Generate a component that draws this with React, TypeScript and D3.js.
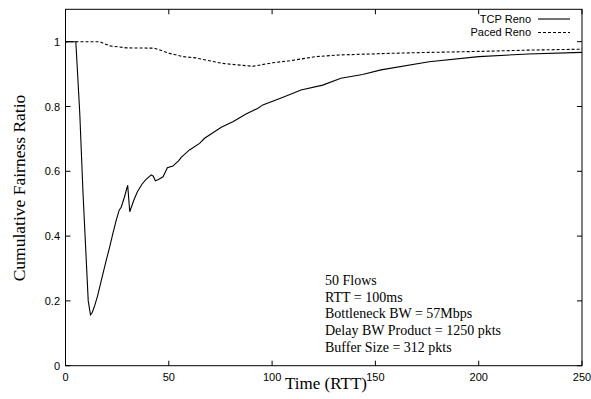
import React from "react";
import * as d3 from "d3";

const renoX = [0, 5, 6.9, 8.5, 11, 12.1, 13, 14.2, 15.5, 17.4, 19.5, 21.4, 23, 24.6, 26, 27, 28.5, 30.1, 31.1, 33, 34.8, 37, 39, 41.5, 42.5, 43.5, 45, 47.2, 48.5, 49.3, 52, 53.5, 54.7, 56, 60, 64.9, 67.3, 72.1, 75.4, 81, 87.4, 93, 95.5, 105, 114, 124.5, 133.3, 143.8, 152.7, 176, 200, 224, 250];
const renoY = [1, 1, 0.78, 0.53, 0.2, 0.157, 0.165, 0.187, 0.215, 0.265, 0.32, 0.367, 0.41, 0.45, 0.48, 0.49, 0.52, 0.557, 0.475, 0.51, 0.537, 0.56, 0.575, 0.589, 0.585, 0.571, 0.575, 0.583, 0.6, 0.611, 0.616, 0.625, 0.632, 0.643, 0.666, 0.686, 0.702, 0.722, 0.736, 0.753, 0.777, 0.794, 0.805, 0.828, 0.851, 0.866, 0.887, 0.899, 0.913, 0.938, 0.954, 0.962, 0.967];

const pacedX = [0, 16.6, 21.4, 29.5, 43, 50.4, 56.8, 63, 76, 90.6, 100.3, 108.4, 121.3, 132.5, 156.7, 176, 200, 224, 250];
const pacedY = [1, 1, 0.987, 0.981, 0.98, 0.964, 0.954, 0.95, 0.933, 0.924, 0.935, 0.941, 0.954, 0.959, 0.964, 0.967, 0.97, 0.974, 0.977];

const xTicks = [0, 50, 100, 150, 200, 250];
const yTicks = [0, 0.2, 0.4, 0.6, 0.8, 1];
const yTickLabels = ["0", "0.2", "0.4", "0.6", "0.8", "1"];

const seriesNames = ["TCP Reno", "Paced Reno"];
const noteLines = [
  "50 Flows",
  "RTT = 100ms",
  "Bottleneck BW = 57Mbps",
  "Delay BW Product = 1250 pkts",
  "Buffer Size = 312 pkts",
];

export default function App() {
  const W = 591, H = 399;
  const left = 65.5, right = 582, top = 9.3, bottom = 365.7;
  const x = d3.scaleLinear().domain([0, 250]).range([left, right]);
  const y = d3.scaleLinear().domain([0, 1.1]).range([bottom, top]);
  const line = d3.line<[number, number]>().x(d => x(d[0])).y(d => y(d[1]));
  const renoPts = renoX.map((v, i) => [v, renoY[i]] as [number, number]);
  const pacedPts = pacedX.map((v, i) => [v, pacedY[i]] as [number, number]);
  const sans = "'Liberation Sans', Arial, sans-serif";
  const serif = "'Liberation Serif', 'Times New Roman', serif";
  const tl = 5;
  return (
    <svg width={W} height={H} style={{ position: "absolute", left: 0, top: 0, background: "#fff" }}>
      <rect x={0} y={0} width={W} height={H} fill="#fff" />
      {xTicks.map((t, i) => (
        <g key={"xt" + i}>
          <line x1={x(t)} x2={x(t)} y1={bottom} y2={bottom - tl} stroke="#000" strokeWidth={1} />
          <line x1={x(t)} x2={x(t)} y1={top} y2={top + tl} stroke="#000" strokeWidth={1} />
          <text x={x(t)} y={380.5} fontFamily={sans} fontSize={11} textAnchor="middle" fill="#000">{t}</text>
        </g>
      ))}
      {yTicks.map((t, i) => (
        <g key={"yt" + i}>
          <line x1={left} x2={left + tl} y1={y(t)} y2={y(t)} stroke="#000" strokeWidth={1} />
          <line x1={right} x2={right - tl} y1={y(t)} y2={y(t)} stroke="#000" strokeWidth={1} />
          <text x={60} y={y(t) + 4} fontFamily={sans} fontSize={11} textAnchor="end" fill="#000">{yTickLabels[i]}</text>
        </g>
      ))}
      <rect x={left} y={top} width={right - left} height={bottom - top} fill="none" stroke="#000" strokeWidth={1} />
      <path d={line(renoPts) || ""} fill="none" stroke="#000" strokeWidth={1.1} />
      <path d={line(pacedPts) || ""} fill="none" stroke="#000" strokeWidth={1.1} strokeDasharray="3,2" />
      <text x={531} y={22.5} fontFamily={sans} fontSize={11} textAnchor="end" fill="#000">{seriesNames[0]}</text>
      <line x1={538} x2={570} y1={19} y2={19} stroke="#000" strokeWidth={1.1} />
      <text x={531} y={36} fontFamily={sans} fontSize={11} textAnchor="end" fill="#000">{seriesNames[1]}</text>
      <line x1={538} x2={570} y1={32.5} y2={32.5} stroke="#000" strokeWidth={1.1} strokeDasharray="3,2" />
      {noteLines.map((s, i) => (
        <text key={"n" + i} x={325} y={285 + i * 16.7} fontFamily={serif} fontSize={14} fill="#000">{s}</text>
      ))}
      <text x={326} y={389} fontFamily={serif} fontSize={17} textAnchor="middle" fill="#000">Time (RTT)</text>
      <text transform="translate(25,188) rotate(-90)" fontFamily={serif} fontSize={17.5} textAnchor="middle" fill="#000">Cumulative Fairness Ratio</text>
    </svg>
  );
}
